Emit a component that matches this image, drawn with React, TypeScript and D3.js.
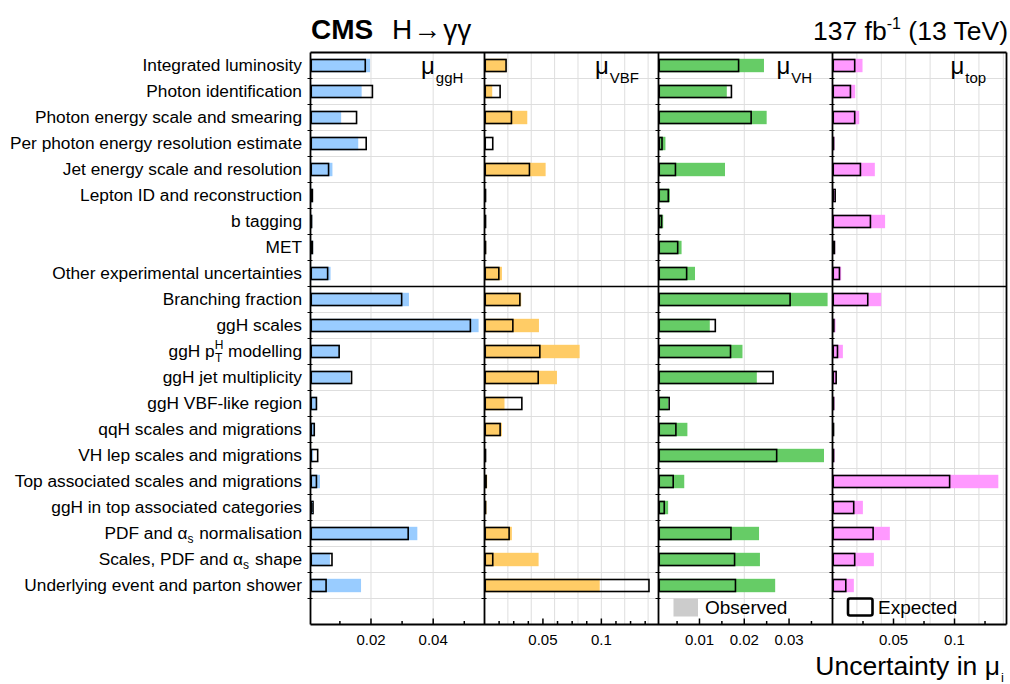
import React from "react";
import * as d3 from "d3";

// ---------- data ----------
const categories = [
  "Integrated luminosity",
  "Photon identification",
  "Photon energy scale and smearing",
  "Per photon energy resolution estimate",
  "Jet energy scale and resolution",
  "Lepton ID and reconstruction",
  "b tagging",
  "MET",
  "Other experimental uncertainties",
  "Branching fraction",
  "ggH scales",
  "ggH p^{H}_{T} modelling",
  "ggH jet multiplicity",
  "ggH VBF-like region",
  "qqH scales and migrations",
  "VH lep scales and migrations",
  "Top associated scales and migrations",
  "ggH in top associated categories",
  "PDF and α_{s} normalisation",
  "Scales, PDF and α_{s} shape",
  "Underlying event and parton shower",
];

const ggHObserved = [0.0197, 0.017, 0.0104, 0.0159, 0.0076, 0.0013, 0.0011, 0.0014, 0.007, 0.0322, 0.0546, 0.01, 0.0133, 0.0025, 0.0018, 0.0014, 0.0036, 0.0014, 0.0349, 0.0068, 0.0168];
const ggHExpected = [0.0184, 0.0207, 0.0156, 0.0187, 0.0066, 0.0014, 0.0011, 0.0014, 0.0063, 0.0301, 0.0522, 0.01, 0.014, 0.0027, 0.002, 0.0031, 0.0027, 0.0016, 0.0322, 0.0077, 0.0058];

const VBFObserved = [0.0186, 0.0066, 0.0366, 0.0009, 0.0523, 0.0004, 0.0004, 0.0014, 0.0149, 0.0314, 0.0466, 0.0814, 0.062, 0.0171, 0.0149, 0.0009, 0.0023, 0.0017, 0.0234, 0.0463, 0.0986];
const VBFExpected = [0.0191, 0.014, 0.0237, 0.0077, 0.0391, 0.0004, 0.0004, 0.0014, 0.0129, 0.0309, 0.0249, 0.048, 0.0466, 0.0326, 0.014, 0.0011, 0.002, 0.0006, 0.0217, 0.0077, 0.1414];

const VHObserved = [0.0244, 0.0161, 0.025, 0.0024, 0.0157, 0.0034, 0.0019, 0.006, 0.009, 0.0386, 0.0123, 0.0196, 0.0228, 0.003, 0.0073, 0.0378, 0.0066, 0.003, 0.0233, 0.0235, 0.0269];
const VHExpected = [0.0189, 0.0173, 0.0217, 0.0018, 0.0048, 0.0032, 0.0017, 0.0053, 0.0073, 0.0304, 0.0137, 0.0171, 0.0266, 0.0034, 0.0049, 0.0274, 0.0043, 0.0023, 0.0172, 0.018, 0.0182];

const topObserved = [0.0246, 0.0186, 0.0219, 0.0017, 0.0347, 0.0022, 0.0431, 0.0022, 0.0071, 0.0399, 0.0025, 0.0085, 0.0036, 0.0017, 0.0005, 0.0017, 0.1359, 0.0249, 0.047, 0.0339, 0.0175];
const topExpected = [0.0188, 0.0153, 0.0188, 0.0005, 0.0235, 0.0028, 0.0317, 0.0022, 0.0063, 0.0295, 0.0017, 0.0047, 0.0036, 0.0014, 0.0005, 0.001, 0.0966, 0.018, 0.0339, 0.0188, 0.0115];

const panelNames = ["ggH", "VBF", "VH", "top"];

const ggHMajorTicks = [0.02, 0.04];
const ggHMinorTicks = [0.01, 0.03, 0.05];
const ggHGrid = [0.02, 0.04];
const VBFMajorTicks = [0.05, 0.1];
const VBFMinorTicks = [0.0125, 0.025, 0.0375, 0.0625, 0.075, 0.0875, 0.1125, 0.125, 0.1375];
const VBFGrid = [0.02, 0.04, 0.06, 0.08, 0.1, 0.12, 0.14];
const VHMajorTicks = [0.01, 0.02, 0.03];
const VHMinorTicks = [0.005, 0.015, 0.025, 0.035];
const VHGrid = [0.02];
const topMajorTicks = [0.05, 0.1];
const topMinorTicks = [0.025, 0.075, 0.125];
const topGrid = [0.02, 0.04, 0.06, 0.08, 0.1, 0.12, 0.14];

const ggHTickLabels = ["0.02", "0.04"];
const VBFTickLabels = ["0.05", "0.1"];
const VHTickLabels = ["0.01", "0.02", "0.03"];
const topTickLabels = ["0.05", "0.1"];

// ---------- layout / style ----------
const W = 1010;
const H = 684;
const FONT = "'Liberation Sans', Arial, Helvetica, sans-serif";
const TOP = 52.5;
const ROW_H = 26;
const N_ROWS = 22; // 21 categories + legend row
const BOTTOM = TOP + ROW_H * N_ROWS;
const LABEL_X = 302;

const panels = [
  { name: panelNames[0], obs: ggHObserved, exp: ggHExpected, color: "#99ccff", domain: [0.00055, 0.0565], range: [310.5, 484.5], major: ggHMajorTicks, minor: ggHMinorTicks, grid: ggHGrid, labels: ggHTickLabels, muX: 421 },
  { name: panelNames[1], obs: VBFObserved, exp: VBFExpected, color: "#ffcc66", domain: [0, 0.1489], range: [484.5, 658.5], major: VBFMajorTicks, minor: VBFMinorTicks, grid: VBFGrid, labels: VBFTickLabels, muX: 595 },
  { name: panelNames[2], obs: VHObserved, exp: VHExpected, color: "#66cc66", domain: [0.00085, 0.0397], range: [658.5, 832.5], major: VHMajorTicks, minor: VHMinorTicks, grid: VHGrid, labels: VHTickLabels, muX: 776.5 },
  { name: panelNames[3], obs: topObserved, exp: topExpected, color: "#ff99ff", domain: [0, 0.1426], range: [832.5, 1006.5], major: topMajorTicks, minor: topMinorTicks, grid: topGrid, labels: topTickLabels, muX: 950.5 },
];

const yScale = d3
  .scaleBand<number>()
  .domain(d3.range(N_ROWS))
  .range([TOP, BOTTOM])
  .paddingInner(0)
  .paddingOuter(0);

function renderLabel(s: string) {
  const parts = s.split(/(\^\{[^}]*\}_\{[^}]*\}|_\{[^}]*\})/).filter((p) => p.length > 0);
  const out: React.ReactNode[] = [];
  let shift = 0;
  parts.forEach((p, k) => {
    const stacked = p.match(/^\^\{([^}]*)\}_\{([^}]*)\}$/);
    const sub = p.match(/^_\{([^}]*)\}$/);
    if (stacked) {
      out.push(
        <tspan key={k + "a"} dy={-8} fontSize={12}>
          {stacked[1]}
        </tspan>
      );
      out.push(
        <tspan key={k + "b"} dx={-8.5} dy={13} fontSize={12}>
          {stacked[2]}
        </tspan>
      );
      shift = -5;
    } else if (sub) {
      out.push(
        <tspan key={k} dy={4} fontSize={12}>
          {sub[1]}
        </tspan>
      );
      shift = -4;
    } else {
      out.push(
        <tspan key={k} dy={shift} dx={shift !== 0 ? 1 : 0}>
          {p}
        </tspan>
      );
      shift = 0;
    }
  });
  return out;
}

export default function App() {
  const rows = d3.range(categories.length);
  const sepY = yScale(9) as number;
  return (
    <svg
      width={W}
      height={H}
      viewBox={`0 0 ${W} ${H}`}
      style={{ position: "absolute", left: 0, top: 0, background: "#fff" }}
      fontFamily={FONT}
    >
      <rect x={0} y={0} width={W} height={H} fill="#fff" />

      {/* header */}
      <text x={311} y={39} fontSize={28} fontWeight="bold" fill="#000">
        CMS
      </text>
      <text x={392} y={39} fontSize={28} fill="#000">
        H
        <tspan dx={1}>→</tspan>
        <tspan dx={2}>γγ</tspan>
      </text>
      <text x={1008} y={40} fontSize={26.5} textAnchor="end" fill="#000">
        137 fb
        <tspan dy={-11} fontSize={16}>
          -1
        </tspan>
        <tspan dy={11}> (13 TeV)</tspan>
      </text>

      {/* grid lines */}
      {d3.range(1, N_ROWS).map((r) => (
        <line key={"hg" + r} x1={panels[0].range[0]} x2={panels[3].range[1]} y1={yScale(r) as number} y2={yScale(r) as number} stroke="#dedede" strokeWidth={1} />
      ))}
      {panels.map((p) => {
        const x = d3.scaleLinear().domain(p.domain).range(p.range);
        return p.grid.map((g) => (
          <line key={p.name + "vg" + g} x1={x(g)} x2={x(g)} y1={TOP} y2={BOTTOM} stroke="#dedede" strokeWidth={1} />
        ));
      })}

      {/* bars */}
      {panels.map((p) => {
        const x = d3.scaleLinear().domain(p.domain).range(p.range);
        const x0 = p.range[0];
        return (
          <g key={p.name + "bars"}>
            {rows.map((i) => {
              const cy = (yScale(i) as number) + ROW_H / 2;
              return (
                <rect key={"o" + i} x={x0} y={cy - 6.7} width={Math.max(0, x(p.obs[i]) - x0)} height={13.4} fill={p.color} />
              );
            })}
            {rows.map((i) => {
              const cy = (yScale(i) as number) + ROW_H / 2;
              return (
                <rect
                  key={"e" + i}
                  x={x0 + 0.75}
                  y={cy - 6}
                  width={Math.max(0.3, x(p.exp[i]) - x0 - 1.5)}
                  height={12}
                  fill="none"
                  stroke="#000"
                  strokeWidth={1.6}
                />
              );
            })}
          </g>
        );
      })}

      {/* separator */}
      <line x1={panels[0].range[0]} x2={panels[3].range[1]} y1={sepY} y2={sepY} stroke="#000" strokeWidth={1.5} />

      {/* frames, ticks, labels */}
      {panels.map((p) => {
        const x = d3.scaleLinear().domain(p.domain).range(p.range);
        return (
          <g key={p.name + "axis"}>
            {d3.range(1, N_ROWS).map((r) => (
              <line key={"yt" + r} x1={p.range[0] - 3} x2={p.range[0] + 2} y1={yScale(r) as number} y2={yScale(r) as number} stroke="#000" strokeWidth={1} />
            ))}
            {p.major.map((t) => (
              <line key={"M" + t} x1={x(t)} x2={x(t)} y1={BOTTOM} y2={BOTTOM - 6} stroke="#000" strokeWidth={1.5} />
            ))}
            {p.minor.map((t) => (
              <line key={"m" + t} x1={x(t)} x2={x(t)} y1={BOTTOM} y2={BOTTOM - 3.5} stroke="#000" strokeWidth={1.5} />
            ))}
            {p.major.map((t, k) => (
              <text key={"L" + t} x={x(t)} y={645} fontSize={15} textAnchor="middle" fill="#000">
                {p.labels[k]}
              </text>
            ))}
            <text x={p.muX} y={74} fontSize={24} fill="#000">
              μ
              <tspan dx={1} dy={9} fontSize={15}>
                {p.name}
              </tspan>
            </text>
          </g>
        );
      })}
      {panels.map((p) => (
        <line key={p.name + "lb"} x1={p.range[0]} x2={p.range[0]} y1={TOP} y2={BOTTOM} stroke="#000" strokeWidth={1.8} />
      ))}
      <line x1={panels[3].range[1]} x2={panels[3].range[1]} y1={TOP} y2={BOTTOM} stroke="#000" strokeWidth={1.8} />
      <line x1={panels[0].range[0]} x2={panels[3].range[1]} y1={TOP} y2={TOP} stroke="#000" strokeWidth={1.8} />
      <line x1={panels[0].range[0]} x2={panels[3].range[1]} y1={BOTTOM} y2={BOTTOM} stroke="#000" strokeWidth={1.8} />

      {/* category labels */}
      {categories.map((c, i) => (
        <text key={"cl" + i} x={LABEL_X} y={(yScale(i) as number) + ROW_H / 2 + 5.5} fontSize={17.3} textAnchor="end" fill="#000">
          {renderLabel(c)}
        </text>
      ))}

      {/* legend */}
      <rect x={673.5} y={598.5} width={24.5} height={18} fill="#cccccc" />
      <text x={705} y={613.5} fontSize={19} fill="#000">
        Observed
      </text>
      <rect x={848} y={598.5} width={24.5} height={17} rx={2} fill="none" stroke="#000" strokeWidth={2.6} />
      <text x={878} y={613.5} fontSize={19} fill="#000">
        Expected
      </text>

      {/* x title */}
      <text x={1000} y={675} fontSize={26.5} textAnchor="end" fill="#000">
        Uncertainty in μ
      </text>
      <text x={1001} y={682} fontSize={13} fill="#000">
        i
      </text>
    </svg>
  );
}
